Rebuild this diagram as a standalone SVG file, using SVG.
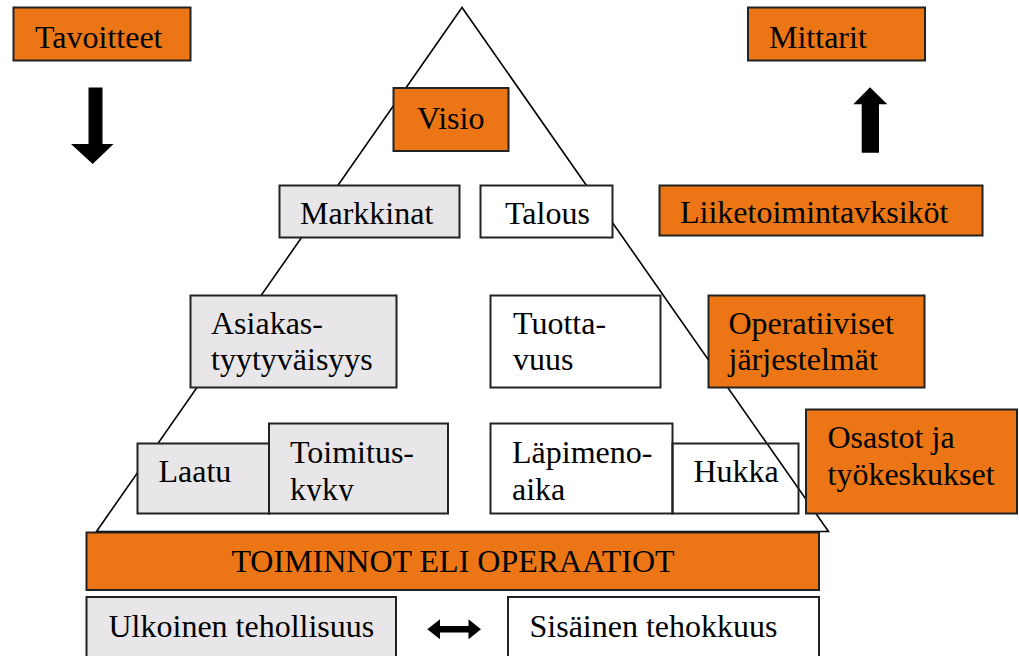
<svg xmlns="http://www.w3.org/2000/svg" width="1019" height="656" viewBox="0 0 1019 656">
<style>
.box{stroke:#222;stroke-width:2}
.or{fill:#EC7616}
.gr{fill:#E8E6E8}
.wh{fill:#FFFFFF}
.nf{fill:none}
.arrow{fill:#000;stroke:none}
</style>
<defs>
<clipPath id="clipKyky"><rect x="260" y="420" width="200" height="81"/></clipPath>
</defs>
<rect width="1019" height="656" fill="#fff"/>
<g id="pyramid">
<polygon points="462,7.5 96.5,531.5 828.5,531.5" fill="none" stroke="#000" stroke-width="1.6"/>
</g>
<g id="tavoitteet"><rect class="box or" x="13.5" y="7.5" width="177" height="53"/><text x="35" y="48" font-family="Liberation Serif" font-size="32">Tavoitteet</text></g>
<g id="mittarit"><rect class="box or" x="748" y="7.5" width="177" height="53"/><text x="769" y="48" font-family="Liberation Serif" font-size="32">Mittarit</text></g>
<g id="visio"><rect class="box or" x="393.5" y="88" width="115" height="63"/><text x="417" y="128.5" font-family="Liberation Serif" font-size="32">Visio</text></g>
<g id="markkinat"><rect class="box gr" x="279.5" y="185.5" width="180" height="52"/><text x="300" y="224" font-family="Liberation Serif" font-size="32">Markkinat</text></g>
<g id="talous"><rect class="box wh" x="480.5" y="185.5" width="132" height="52"/><text x="505" y="224" font-family="Liberation Serif" font-size="32">Talous</text></g>
<g id="liiketoimintayksikot"><rect class="box or" x="659.5" y="185.5" width="323" height="50"/><text x="680" y="223" font-family="Liberation Serif" font-size="32">Liiketoimintavksiköt</text></g>
<g id="asiakastyytyvaisyys"><rect class="box gr" x="190.5" y="295.5" width="206" height="92"/><text x="211" y="334" font-family="Liberation Serif" font-size="32">Asiakas-<tspan x="211" y="370">tyytyväisyys</tspan></text></g>
<g id="tuottavuus"><rect class="box wh" x="490.5" y="295.5" width="170" height="92"/><text x="513" y="334" font-family="Liberation Serif" font-size="32">Tuotta-<tspan x="513" y="370">vuus</tspan></text></g>
<g id="operatiiviset"><rect class="box or" x="708.5" y="295.5" width="216" height="92"/><text x="728.5" y="333.5" font-family="Liberation Serif" font-size="32">Operatiiviset<tspan x="728.5" y="370">järjestelmät</tspan></text></g>
<g id="laatu"><rect class="box gr" x="137.5" y="443.5" width="132" height="70"/><text x="158.5" y="482" font-family="Liberation Serif" font-size="32">Laatu</text></g>
<g id="toimituskyky"><rect class="box gr" x="269" y="423.5" width="179" height="90"/><text x="290" y="463" font-family="Liberation Serif" font-size="32">Toimitus-</text><text x="290" y="499.5" font-family="Liberation Serif" font-size="32" clip-path="url(#clipKyky)">kyky</text></g>
<g id="lapimenoaika"><rect class="box wh" x="490.5" y="423.5" width="182" height="90"/><text x="512" y="463" font-family="Liberation Serif" font-size="32">Läpimeno-<tspan x="512" y="499.5">aika</tspan></text></g>
<g id="hukka"><rect class="box nf" x="672.5" y="443.5" width="126" height="70"/><text x="693.5" y="482" font-family="Liberation Serif" font-size="32">Hukka</text></g>
<g id="osastot"><rect class="box or" x="806" y="409.5" width="211" height="104"/><text x="827.5" y="448" font-family="Liberation Serif" font-size="32">Osastot ja<tspan x="827.5" y="485">työkeskukset</tspan></text></g>
<g id="toiminnot"><rect class="box or" x="86.5" y="532.5" width="732.5" height="57.5"/><text x="453" y="572" text-anchor="middle" font-family="Liberation Serif" font-size="32">TOIMINNOT ELI OPERAATIOT</text></g>
<g id="ulkoinen"><rect class="box gr" x="86.5" y="597" width="309.5" height="70"/><text x="108.5" y="637" font-family="Liberation Serif" font-size="32">Ulkoinen tehollisuus</text></g>
<g id="sisainen"><rect class="box wh" x="508" y="597" width="311" height="70"/><text x="529.5" y="637" font-family="Liberation Serif" font-size="32">Sisäinen tehokkuus</text></g>
<g id="connectors">
<polygon class="arrow" points="88.5,87.5 102.5,87.5 102.5,144 113.5,144 92.7,164 71,144 88.5,144"/>
<polygon class="arrow" points="870,87.3 887.3,104.3 879,104.3 879,152.7 861.7,152.7 861.7,104.3 853.3,104.3"/>
<polygon class="arrow" points="427.3,629.3 440,619.3 440,626 468.5,626 468.5,619.3 481,629.3 468.5,639.3 468.5,632.6 440,632.6 440,639.3"/>
</g>
</svg>
